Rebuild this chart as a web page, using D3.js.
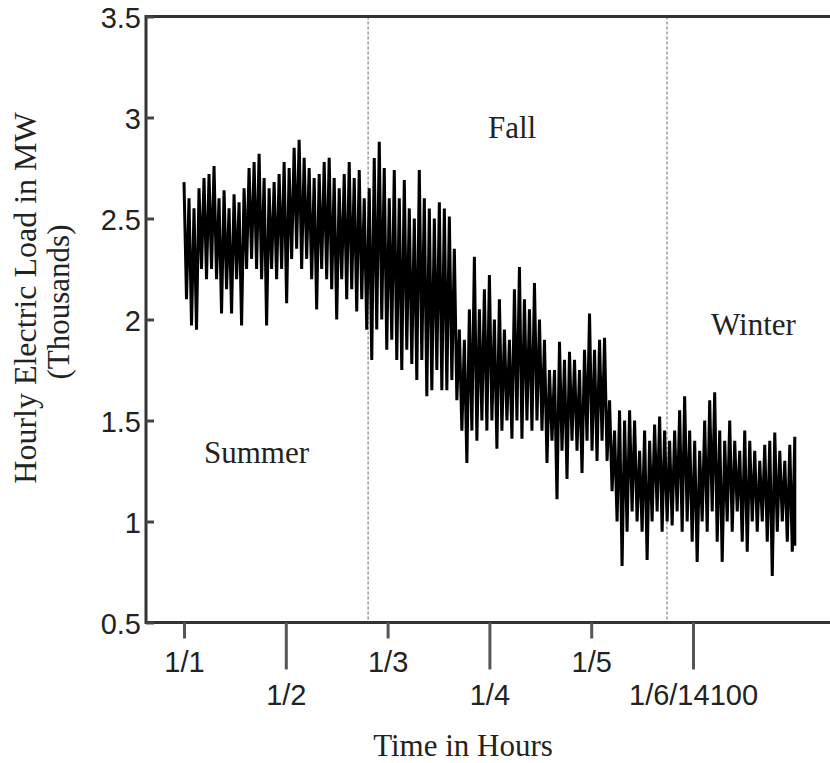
<!DOCTYPE html>
<html><head><meta charset="utf-8">
<script src="https://cdn.jsdelivr.net/npm/d3@7"></script>
<style>body{margin:0;background:#fff}svg{display:block}</style>
</head><body><svg id="c" width="830" height="763"></svg>
<script>
// ---- data (thousands of MW) ----
const tickHours = [0, 2350, 4700, 7050, 9400, 11750];
const tickLabels = ["1/1", "1/2", "1/3", "1/4", "1/5", "1/6/14100"];
const yTicks = [0.5, 1, 1.5, 2, 2.5, 3, 3.5];
const seasonBreaks = [4250, 11150];
const seasonNames = ["Summer", "Fall", "Winter"];
const totalHours = 14100;
// local maxima of the hourly load, in time order
const loadPeaks = [
 2.68,2.60,2.55,2.65,2.70,2.72,2.76,2.60,2.64,2.55,2.62,2.58,2.65,2.75,2.78,2.82,2.70,2.65,2.68,2.72,2.78,2.75,2.85,2.89,
 2.80,2.75,2.70,2.72,2.78,2.80,2.70,2.65,2.72,2.78,2.70,2.74,2.60,2.65,2.80,2.88,2.75,2.60,2.74,2.60,2.69,2.55,2.50,2.74,2.60,2.55,
 2.50,2.58,2.55,2.51,2.35,1.95,1.90,2.05,2.31,2.05,2.15,2.22,2.00,2.10,1.95,1.90,2.15,2.26,2.10,2.05,2.18,2.00,1.90,1.75,
 1.75,1.89,1.80,1.84,1.80,1.75,1.85,2.03,1.85,1.90,1.91,1.60,1.45,1.55,1.50,1.55,1.50,1.35,1.45,1.40,1.48,1.52,1.45,
 1.40,1.45,1.55,1.62,1.45,1.40,1.35,1.50,1.60,1.64,1.45,1.40,1.50,1.40,1.35,1.45,1.40,1.35,1.30,1.38,1.40,1.44,1.35,1.30,1.38,1.42
];
// local minima of the hourly load, in time order
const loadTroughs = [
 2.10,1.97,1.95,2.25,2.20,2.25,2.20,2.03,2.15,2.03,2.20,1.97,2.25,2.30,2.25,2.20,1.97,2.25,2.20,2.25,2.08,2.30,2.35,2.25,
 2.30,2.20,2.05,2.25,2.20,2.15,2.00,2.20,2.10,2.15,2.04,2.10,1.95,1.80,1.95,2.00,1.85,1.90,1.80,1.75,1.85,1.78,1.70,1.80,1.62,1.65,
 1.75,1.65,1.65,1.70,1.60,1.45,1.29,1.45,1.40,1.50,1.45,1.50,1.36,1.45,1.50,1.41,1.50,1.41,1.50,1.45,1.50,1.45,1.29,1.40,
 1.11,1.35,1.21,1.40,1.35,1.24,1.40,1.35,1.30,1.40,1.30,1.15,1.00,0.78,0.95,1.05,1.00,0.95,0.81,1.00,1.05,0.95,1.00,
 0.98,1.05,0.95,1.00,0.90,0.80,1.00,0.95,1.05,0.90,0.80,1.00,0.95,1.05,0.90,0.85,1.00,0.95,1.00,0.90,0.73,0.95,1.00,0.90,0.85,0.88
];

// ---- build series ----
const n = loadPeaks.length;
const step = totalHours / (n - 1);
const series = [];
for (let i = 0; i < n; i++) {
  series.push({h: i * step, v: loadPeaks[i]});
  if (i < n - 1) series.push({h: i * step + step / 2, v: loadTroughs[i]});
  else series.push({h: i * step, v: loadTroughs[i]});
}

const svg = d3.select("#c");
const x = d3.scaleLinear().domain([0, totalHours]).range([184, 794.8]);
const y = d3.scaleLinear().domain([0.5, 3.5]).range([622.5, 16.5]);
const left = 146, right = 830;
const sans = "'Liberation Sans', Arial, Helvetica, sans-serif";
const serif = "'Liberation Serif', 'Times New Roman', serif";

// season separators
svg.selectAll("line.sep").data(seasonBreaks).enter().append("line")
  .attr("x1", d => x(d)).attr("x2", d => x(d))
  .attr("y1", y(3.5)).attr("y2", y(0.5))
  .attr("stroke", "#666").attr("stroke-width", 1).attr("stroke-dasharray", "3,2");

// data line
svg.append("path").datum(series)
  .attr("d", d3.line().x(d => x(d.h)).y(d => y(d.v)))
  .attr("fill", "none").attr("stroke", "#000").attr("stroke-width", 3)
  .attr("stroke-linejoin", "bevel");

// frame lines
svg.append("line").attr("x1", left).attr("x2", left).attr("y1", y(3.5) - 1.5).attr("y2", y(0.5) + 1.5)
  .attr("stroke", "#333").attr("stroke-width", 3);
svg.append("line").attr("x1", left).attr("x2", right).attr("y1", y(3.5)).attr("y2", y(3.5))
  .attr("stroke", "#333").attr("stroke-width", 3);
svg.append("line").attr("x1", left).attr("x2", right).attr("y1", y(0.5)).attr("y2", y(0.5))
  .attr("stroke", "#333").attr("stroke-width", 3);

// y axis
const ya = svg.append("g").attr("transform", `translate(${left},0)`)
  .call(d3.axisLeft(y).tickValues(yTicks).tickSize(-8).tickPadding(5).tickFormat(d3.format("")));
ya.select(".domain").remove();
ya.selectAll(".tick line").attr("stroke", "#444").attr("stroke-width", 3);
ya.selectAll(".tick text").attr("font-family", sans).attr("font-size", 29).attr("fill", "#222").attr("dy", "0.38em");

// x axis
const xa = svg.append("g").attr("transform", `translate(0,${y(0.5)})`)
  .call(d3.axisBottom(x).tickValues(tickHours).tickFormat((d, i) => tickLabels[i]));
xa.select(".domain").remove();
xa.selectAll(".tick line").attr("stroke", "#555").attr("stroke-width", 3)
  .attr("y2", (d, i) => i % 2 === 0 ? 16 : 47);
xa.selectAll(".tick text").attr("font-family", sans).attr("font-size", 29).attr("fill", "#222")
  .attr("dy", null).attr("y", (d, i) => i % 2 === 0 ? 49.5 : 82.5);

// axis titles
svg.append("text").attr("x", 463).attr("y", 756).attr("text-anchor", "middle")
  .attr("font-family", serif).attr("font-size", 31).attr("fill", "#222").text("Time in Hours");
svg.append("text").attr("transform", "translate(36,298) rotate(-90)").attr("text-anchor", "middle")
  .attr("font-family", serif).attr("font-size", 32).attr("fill", "#222").text("Hourly Electric Load in MW");
svg.append("text").attr("transform", "translate(69,302) rotate(-90)").attr("text-anchor", "middle")
  .attr("font-family", serif).attr("font-size", 31).attr("fill", "#222").text("(Thousands)");

// season labels
const seasonPos = [[204, 463], [488, 138], [711, 335]];
svg.selectAll("text.season").data(seasonNames).enter().append("text")
  .attr("x", (d, i) => seasonPos[i][0]).attr("y", (d, i) => seasonPos[i][1])
  .attr("font-family", serif).attr("font-size", 31).attr("fill", "#222").text(d => d);
</script>
</body></html>
